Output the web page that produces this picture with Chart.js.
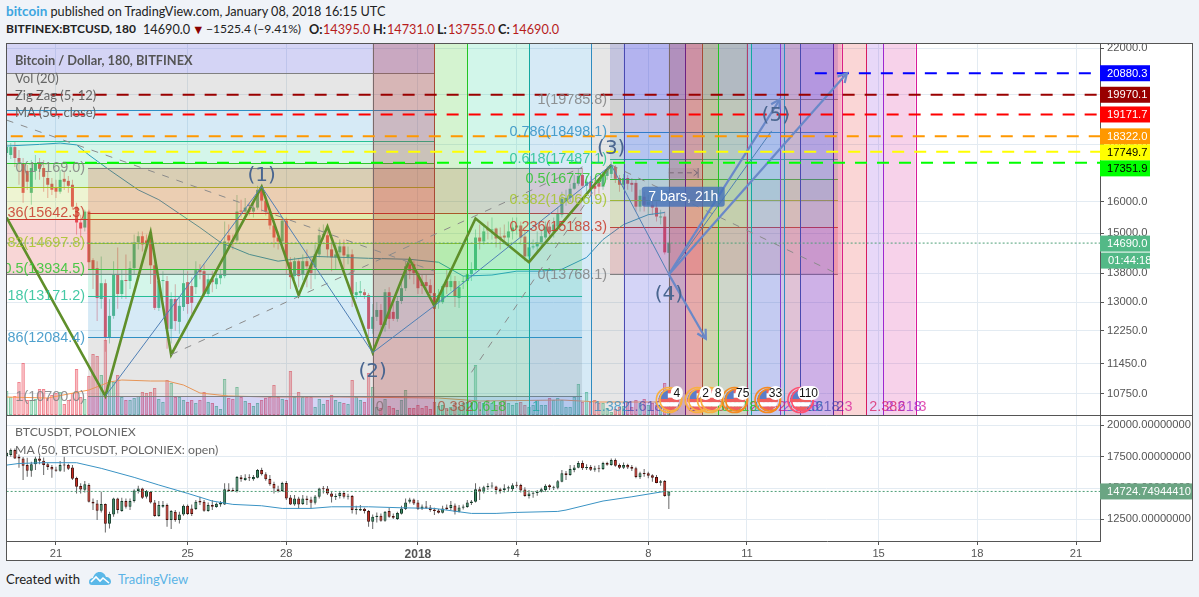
<!DOCTYPE html>
<html><head><meta charset="utf-8">
<script src="https://cdn.jsdelivr.net/npm/chart.js@4"></script>
<style>
html,body{margin:0;padding:0;background:#f0f3f8;width:1199px;height:597px;overflow:hidden;font-family:Lato,sans-serif;}
.t{position:absolute;white-space:nowrap;line-height:16px;}
#frame{position:absolute;left:6px;top:43px;width:1185px;height:516px;border:1px solid #555;background:#fff;box-sizing:content-box;}
#sep{position:absolute;left:7px;top:415px;width:1185px;height:1px;background:#555;}
canvas{position:absolute;}
.leg{color:#666;font-size:13px;}
.low{font-size:12.3px;}
.h2{top:21px;font-size:12.7px;color:#222}
.r{color:#b71c1c}
b{font-weight:700}
</style></head><body>
<div class="t" style="left:6px;top:3px;font-size:12.7px;color:#222"><span style="color:#3ea6e0;font-weight:700;font-size:13.5px">bitcoin</span> published on TradingView.com, January 08, 2018 16:15 UTC</div>
<div class="t h2" style="left:6px;font-weight:700;font-size:12px">BITFINEX:BTCUSD, 180</div>
<div class="t h2" style="left:143px">14690.0</div>
<div class="t h2" style="left:192px;color:#8b0000">▼</div>
<div class="t h2" style="left:206px;font-size:12.1px">−1525.4 (−9.41%)</div>
<div class="t h2" style="left:309px"><b>O:</b></div><div class="t h2 r" style="left:323px">14395.0</div>
<div class="t h2" style="left:373px"><b>H:</b></div><div class="t h2 r" style="left:387px">14731.0</div>
<div class="t h2" style="left:437px"><b>L:</b></div><div class="t h2 r" style="left:448px">13755.0</div>
<div class="t h2" style="left:498px"><b>C:</b></div><div class="t h2 r" style="left:512px">14690.0</div>
<div id="frame"></div>
<canvas id="mainC" width="1185" height="371" style="left:7px;top:44px"></canvas>
<div id="sep"></div>
<canvas id="lowC" width="1185" height="144" style="left:7px;top:416px"></canvas>
<div class="t leg" style="left:15px;top:52px;font-weight:700;color:#555;font-size:12.8px">Bitcoin / Dollar, 180, BITFINEX</div>
<div class="t leg" style="left:15px;top:70px">Vol (20)</div>
<div class="t leg" style="left:15px;top:87px">Zig Zag (5, 12)</div>
<div class="t leg" style="left:15px;top:104px">MA (50, close)</div>
<div class="t leg low" style="left:15px;top:424px">BTCUSDT, POLONIEX</div>
<div class="t leg low" style="left:15px;top:442px">MA (50, BTCUSDT, POLONIEX: open)</div>
<div class="t" style="left:6px;top:571px;font-size:13.1px;color:#222">Created with</div>
<svg style="position:absolute;left:88px;top:571px" width="24" height="15" viewBox="0 0 24 15"><path d="M1 11 C1 8 3 7 5 7 C6 3 9 1 11 1 C15 1 17 3 18 6 C21 6 23 8 23 11 C23 13 21 14 19 14 L4 14 C2 14 1 13 1 11Z" fill="#5bb8e8"/><path d="M3 11 L8 6 L12 10 L15 7 L21 12" fill="none" stroke="#fff" stroke-width="1.6"/></svg>
<div class="t" style="left:118px;top:571px;font-size:13px;color:#5bb3e6">TradingView</div>
<script>
// ---- data ----
const firstBar = -12;                       // bar 0 = 21 Dec 00:00, 3-hour bars
const dateTickBars = [0,32,56,88,112,144,168,200,224,248];
const dateTickLabels = ["21","25","28","2018","4","8","11","15","18","21"];
const priceTicks = [22000,20000,18000,16000,15000,13800,13000,12250,11450,10750];
const lowerTicks = [20000,17500,15000,12500];

// Bitfinex BTCUSD [open, high, low, close]
const btcusdRows = [
[17700,18070,17560,17920],[17630,18070,17480,17920],[17920,18150,17200,17520],[17520,17810,16575,17380],[17340,17520,15970,16300],
[17060,17270,16400,16680],[16300,17450,15900,17160],[17060,17630,16745,17340],[17340,17520,16745,17130],[17160,17450,16340,16850],
[16810,17020,16130,16575],[16610,16810,16230,16404],[16470,16745,16130,16340],[16340,17090,16270,16745],[16780,17020,16400,16680],
[16710,16880,16300,16540],[16575,16745,15740,15840],[15840,15970,14950,15330],[15330,15580,14860,15140],[15170,15740,15050,15680],
[15680,15740,13916,14120],[14180,14235,13356,13916],[13945,14150,12500,13110],[13084,14290,12820,13520],[13520,13630,11730,12075],
[12075,13084,11930,12635],[12635,14150,12560,13775],[13775,14560,12820,13220],[13220,13916,13084,13605],[13610,14350,13084,13580],
[13580,14150,13356,13945],[13945,14950,13775,14710],[14710,15050,14500,14900],[14900,15050,14440,14650],[14770,14950,14500,14650],
[15020,15020,13500,14030],[14030,14205,12790,12845],[12845,13690,12765,13580],[13580,13860,13084,13605],[13580,13720,11806,12300],
[12300,13270,11930,13084],[13084,13490,12250,12500],[12480,13140,12175,12900],[12870,13916,12765,13520],[13550,13860,12690,12950],
[13440,13690,12690,12980],[13410,14150,13220,13890],[13916,14060,13630,13830],[13860,14060,13140,13220],[13220,13775,13140,13630],
[13630,13860,13270,13550],[13490,13916,13356,13660],[13660,13916,13490,13750],[13720,15360,13660,14740],[14930,15265,14560,14770],
[14770,14950,14500,14740],[14770,16230,14710,15680],[15710,16070,15490,15680],[15680,16130,15490,15810],[15710,15970,15550,15680],
[15680,16070,15490,15810],[15810,16540,15740,16404],[16404,16510,15680,16040],[16040,16200,15550,15680],[15680,15740,15110,15235],
[15235,15360,14560,14860],[14860,15050,14500,14740],[14740,15490,14500,15390],[15390,15490,13775,14150],[14120,14265,13356,13690],
[13720,14265,13630,14150],[14150,14205,13410,13720],[13750,14350,13605,14150],[14150,14500,13410,14000],[14030,14265,13356,13805],
[13970,14650,13630,14350],[14350,15170,14265,14930],[14930,15265,14800,14960],[14930,15050,14265,14500],[14500,14710,13860,14265],
[14265,14650,13916,14350],[14410,14800,14150,14590],[14590,14800,13860,14320],[14265,14590,14060,14350],[14350,14500,12870,13220],
[13190,13550,13084,13270],[13245,13580,13140,13300],[13270,13356,13084,13190],[13190,13245,12050,12300],[12300,12950,12175,12610],
[12610,13000,12500,12790],[12790,12950,12300,12400],[12400,13356,12225,13270],[13270,13410,12300,12557],[12740,12950,12500,12557],
[12557,13140,12480,13030],[13030,13580,12950,13380],[13380,14150,13300,14000],[14060,14205,13630,13860],[14060,14150,13490,13805],
[13805,13860,13220,13380],[13550,13775,13220,13440],[13550,13775,13300,13440],[13465,13630,13084,13245],[13245,13520,12690,12820],
[13000,13356,12820,13190],[13000,13490,12950,13440],[13580,13916,13220,13410],[13410,13775,13300,13580],[13580,13720,12870,13140],
[13110,13580,12845,13410],[13555,13720,13356,13580],[13580,13916,13490,13775],[13775,14120,13580,13916],[13890,15110,13860,14860],
[14860,15265,14500,14740],[14740,15265,14650,15050],[15140,15360,14800,15080],[15080,15490,14800,15110],[15140,15170,14560,14830],
[14890,15170,14500,14830],[14920,15265,14650,14860],[14860,15360,14650,15050],[15050,15490,14800,15170],[15170,15490,14950,15235],
[15235,15360,14650,14860],[14890,15110,14150,14290],[14290,14740,14150,14560],[14560,14800,14500,14590],[14590,15050,14440,14710],
[14710,15110,14560,14900],[14860,15360,14800,15200],[15200,15360,14800,15020],[15050,15490,14860,15265],[15200,15810,15110,15610],
[15580,16340,15490,16100],[16040,16404,15870,16130],[16130,16610,16000,16440],[16440,16915,16404,16640],[16610,17160,16540,16880],
[16915,17160,16470,16540],[16540,16880,16340,16680],[16680,16880,16230,16440],[16540,16745,16200,16440],[16640,16810,16270,16510],
[16510,17020,16404,16915],[16880,17240,16745,17090],[16950,17380,16810,17270],[17200,17270,16640,16780],[16810,16915,16340,16575],
[16575,16950,16404,16810],[16810,16915,16404,16610],[16640,16810,16340,16575],[16640,16745,15680,15840],[15840,16404,15680,16200],
[16170,16340,15680,15900],[15900,16230,15580,16000],[15900,16130,15580,15810],[15810,16000,15360,15520],[15490,15740,15265,15520],
[15520,15680,14350,14410],[14395,14731,13755,14690]];

// Poloniex BTCUSDT [open, high, low, close]
const btcusdtRows = [
[17530,17900,17500,17820],[17630,18160,17500,18030],[18030,18160,17310,17360],[17500,17680,16620,17360],[17360,17470,15630,16780],
[16830,17420,15900,16380],[16380,17100,15900,16890],[16890,17500,16430,17360],[17360,17580,16890,17180],[17180,17440,16030,16830],
[16890,16990,16430,16670],[16670,16830,15820,16480],[16480,16700,16300,16380],[16380,17150,16300,16830],[16860,17500,16300,16800],
[16830,16940,16430,16540],[16640,16830,15630,15740],[15790,15900,14570,15100],[15160,15370,14570,14890],[14860,15550,14650,15290],
[15240,15370,13850,13900],[13900,14170,13240,13770],[13770,14040,12440,13190],[13190,14700,13050,13720],[13720,13770,11450,12150],
[12150,13100,11770,12920],[12890,14220,12710,14170],[14170,14220,12970,13240],[13160,14220,13100,13960],[13960,14170,13370,13500],
[13500,14170,13240,13960],[13960,14910,13850,14810],[14760,15180,14570,14970],[14970,15020,14120,14220],[14300,14840,14170,14760],
[14700,14760,13770,13850],[13850,14040,12710,12760],[12760,13960,12710,13640],[13500,13960,13420,13640],[13640,13770,11910,12440],
[12440,13240,11720,13160],[13100,13240,12310,12440],[12440,13100,12170,12890],[12890,13690,12790,13580],[13580,13690,12840,12920],
[13370,13690,12760,12920],[13320,14040,13240,13900],[13960,14300,13640,13850],[13900,14040,13100,13190],[13160,13850,13100,13640],
[13640,14040,13240,13500],[13480,13850,13420,13740],[13690,13960,13500,13850],[13690,15370,13640,14910],[14890,15370,14700,14760],
[14810,15020,14700,14760],[14760,15950,14650,15870],[15850,16030,15500,15690],[15630,16090,15580,15820],[15820,16090,15550,15770],
[15690,16030,15580,15870],[15820,16510,15770,16430],[16430,16620,16000,16090],[16090,16250,15580,15690],[15710,16030,15180,15290],
[15320,15500,14570,14970],[14910,15180,14650,14760],[14760,15500,14700,15400],[15400,15550,14040,14170],[14250,14440,13640,13690],
[13690,14440,13580,14170],[14170,14300,13370,13690],[13720,14440,13640,14170],[14170,14380,13640,14040],[14090,14300,13370,13820],
[13820,14440,13690,14330],[14300,15020,14170,14970],[14990,15150,14570,14910],[14970,15150,14440,14570],[14570,14760,13850,14300],
[14280,14570,14040,14360],[14360,14760,14170,14600],[14600,14760,14170,14300],[14300,14540,14090,14360],[14360,14440,12970,13240],
[13240,13580,12890,13320],[13210,13640,13160,13320],[13350,13420,12970,13160],[13160,13240,11910,12310],[12310,12890,11720,12710],
[12680,13050,12250,12790],[12790,12970,12310,12390],[12390,13160,12310,13100],[13160,13420,12630,12710],[12760,12970,12520,12630],
[12520,13100,12440,13000],[12950,13580,12890,13370],[13320,14170,13240,13850],[13900,14220,13770,14090],[14090,14170,13640,13770],
[13850,14040,13240,13320],[13350,13690,13240,13530],[13530,13960,13320,13420],[13450,13640,13100,13240],[13290,13420,12840,13160],
[13210,13320,12970,13030],[13030,13580,12970,13370],[13450,13690,13240,13320],[13400,13960,13240,13640],[13610,13770,12890,13100],
[13100,13640,13050,13450],[13420,13690,13290,13530],[13480,14040,13420,13850],[13800,14040,13640,13930],[13900,15370,13850,14910],
[14910,15100,14040,14700],[14700,15180,14570,15070],[15070,15370,14840,15150],[15130,15450,14970,15180],[15130,15180,14510,14840],
[14910,15020,14570,14760],[14840,15290,14650,14990],[14970,15180,14700,15070],[14910,15370,14760,15210],[15240,15500,15020,15180],
[15240,15340,14650,14810],[14890,15070,14300,14360],[14360,14840,14170,14570],[14540,14760,14220,14600],[14600,14840,14380,14700],
[14700,15020,14650,14910],[14840,15290,14700,15180],[15210,15290,14840,15070],[15020,15180,14840,15070],[15020,15630,14910,15530],
[15500,16430,15450,16170],[16170,16350,15630,16030],[16030,16830,15980,16510],[16430,16830,16250,16640],[16620,17150,16570,16990],
[16990,17200,16430,16570],[16570,16890,16430,16670],[16670,16830,16350,16460],[16460,16780,16300,16570],[16590,16830,16250,16540],
[16510,17100,16430,16990],[16990,17100,16780,16860],[16830,17360,16780,17230],[17230,17360,16700,16780],[16830,16960,16510,16620],
[16620,17040,16510,16830],[16830,16940,16510,16640],[16670,16830,16350,16540],[16570,16700,15770,15870],[15850,16300,15710,16170],
[16170,16510,15900,16110],[16170,16300,15770,15980],[16010,16090,15500,15820],[15870,16030,15370,15400],[15420,15630,15180,15530],
[15550,15630,14300,14360],[14380,14760,13320,14725]];

const volumes = [24,18,19,33,52,15,15,16,26,26,17,20,22,23,11,15,22,46,18,16,39,61,59,40,75,35,33,40,18,15,
15,17,19,23,22,23,27,16,13,35,32,18,18,15,13,15,12,15,23,13,12,9,6,36,17,16,28,18,14,12,
9,12,15,17,18,30,18,16,15,44,18,23,18,18,18,8,16,11,15,20,15,13,12,11,35,18,15,13,42,28,
8,7,16,9,7,5,15,25,7,7,10,7,9,6,13,9,
10,7,8,12,8,12,13,12,50,13,12,15,12,10,13,15,12,10,12,13,10,8,10,15,10,10,17,15,17,15,8,8,18,31,13,23,13,15,12,12,7,3,6,8,9,13,8,15,12,16,10,12,10,17,32,22];
const volMaBars = [-12,-2,8,13,16,23,27,31,35,42,52,69,93,103,123,132,148];
const volMa = [18,17,25,33,35,34,34,30,22,19,18,18,17,14,15,13,13];

const maBars = [-12,-4,1,5,8,13,20,25,35,40,47,54,63,76,86,93,99,106,112,118,123,129,133,138,144,148];
const maPrices = [17960,18020,18070,18000,17630,17090,16400,16070,15170,14710,14350,14150,14290,14235,14205,14120,13720,13750,13860,13860,13916,14260,14800,15265,15580,15650];
const lowMaBars = [-12,-9,-3,5,11,19,25,32,38,43,50,55,62,67,76,84,92,98,101,107,112,122,124,133,140,148];
const lowMaPrices = [16830,16960,17020,17020,16570,15850,15240,14570,13960,13690,13580,13370,13370,13500,13500,13420,13370,13100,12970,12970,13050,13130,13240,13960,14300,14730];

const zigBars = [-12,12,23,28,50,59,66,77,86,92,102,115,135];
const zigPrices = [15487,10700,15020,11660,16510,13190,15200,11710,14205,12900,15455,14120,17270];
const waveBars = [12,50,77,92,135,149,174];
const wavePrices = [10700,16510,11710,12900,17270,13768,18530];
const waveLabels = ["(1)","(2)","(3)","(4)","(5)"];
const waveLabelBars = [50,77,135,149,175];
const waveLabelPrices = [16900,11250,17870,13190,19100];
const arrowOriginBar = 149, arrowOriginPrice = 13768;
const arrowBars = [176,192.3,158];
const arrowPrices = [19780,20880,12050];
const trendA = {bars:[-12,92],prices:[18950,13860]};
const trendB = {bars:[28,128],prices:[11660,17200]};
const trendC = {bars:[101,135],prices:[11240,17270]};
const trendD = {bars:[135,190],prices:[17270,13780]};

const levelPrices = [20880.3,19970.1,19171.7,18322.0,17749.7,17351.9];
const levelColors = ["#0000ff","#990000","#ff0000","#ff9800","#ffff00","#00ff00"];
const levelTextColors = ["#fff","#fff","#fff","#fff","#000","#000"];
const levelFromBars = [184.5,-12,-12,-11,-5.3,1.7];
const levelToBars = [251.9,254,254,254,254,254];
const lastPrice = 14690.0, lastLowPrice = 14724.7494441;

const fibPalette = ["rgba(220,50,50,.2)","rgba(170,200,30,.2)","rgba(60,200,40,.2)","rgba(40,210,150,.2)","rgba(50,150,210,.2)","rgba(128,128,128,.2)","rgba(60,60,210,.22)"];
const fibLineColors = ["#808080","#c8392b","#a4c428","#2fc42f","#25bf95","#2f8fc4","#808080"];
const fibRatios = ["0","0.236","0.382","0.5","0.618","0.786","1"];
const fibAPrices = [17169.0,15642.3,14697.8,13934.5,13171.2,12084.4,10700.0];
const fibBPrices = [13768.1,15446,16485,17324,18163,19358,20880.3];
const fibCPrices = [13768.1,15188.3,16066.9,16777.0,17487.1,18498.1,19785.8];
const fibASpan = [7.8,127.9], fibBSpan = [-20,92.1], fibCSpan = [134.7,190.1];

const zoneRatios = ["0","0.382","0.618","1","1.382","1.618","2","2.382","2.618","3"];
const zoneOneBars = [77,92,100,115,130,138,153,168,176,191];
const zoneTwoBars = [149,157,161,169,177,181,189,197,201,209];
const zoneLineColors = ["#7a6a6a","#a84a35","#22c522","#14a8a0","#2f8cc0","#4a4ab0","#5a1fa0","#d81b60","#9c27d0","#d81b9a"];
const zoneFills = ["rgba(170,40,40,.25)","rgba(60,200,40,.22)","rgba(30,210,150,.2)","rgba(50,150,210,.2)","rgba(128,128,128,.2)","rgba(60,60,220,.22)","rgba(230,50,50,.2)","rgba(140,60,220,.2)","rgba(220,50,160,.22)"];

const rangeBars = [149,156], rangePrice = 16990, rangeTop = 17160, rangeBottom = 16810;
const rangeText = "7 bars, 21h";
const eventBars = [149,156,159,165,173,181];
const eventCounts = ["4","2","8","75","33","110"];
const eventRings = ["#f8b040","#f8b040","#f8b040","#f58a20","#f58a20","#ff5070"];

const countdown = "01:44:18";

// ---- helpers ----
const xMin = -11.913, xMax = 253.83;
const barOf = i => firstBar + i;
const xy = (xs, ys) => xs.map((x,i)=>({x, y:ys[i]}));
const tickFont = {family:'"Liberation Sans"', size:11.2};
const GRID = "#e3ebf2", AXIS = "#555", TICK = "#555";

function lineDs(points, color, width, dash, order, extra){
  return Object.assign({type:"line", data:points, borderColor:color, borderWidth:width, borderDash:dash||[], pointRadius:0,
    tension:0, order, yAxisID:"y", xAxisID:"x", fill:false, spanGaps:true}, extra||{});
}
function barDs(points, bg, border, thick, borderW, order, axis){
  return {type:"bar", data:points, backgroundColor:bg, borderColor:border, borderWidth:borderW, barThickness:thick, grouped:false,
    borderSkipped:false, inflateAmount:0, minBarLength:1, order, yAxisID:axis||"y", xAxisID:"x"};
}
function xAxis(labels){
  return {type:"linear", min:xMin, max:xMax, offset:false,
    afterBuildTicks(s){ s.ticks = dateTickBars.map(v=>({value:v})); },
    afterFit(s){ s.height = labels?19:0; s.paddingLeft=0; s.paddingRight=0; },
    grid:{color:GRID, tickColor:AXIS, tickLength:labels?4:0, offset:false, drawTicks:!!labels},
    border:{display:!!labels, color:AXIS},
    ticks:{display:!!labels, autoSkip:false, maxRotation:0, minRotation:0, padding:2, color:TICK,
      font:(c)=>c.tick && c.tick.value===88 ? {family:tickFont.family,size:12,weight:"bold"} : tickFont,
      callback:(v)=>dateTickLabels[dateTickBars.indexOf(v)]}};
}
function yAxis(cfg){
  return Object.assign({position:"right",
    afterBuildTicks(s){ s.ticks = cfg.ticks.map(v=>({value:v})); },
    afterFit(s){ s.width = 92; s.paddingTop=0; s.paddingBottom=0; },
    grid:{color:GRID, tickColor:AXIS, tickLength:4},
    border:{display:true,color:AXIS},
    ticks:{autoSkip:false, padding:3, color:TICK, font:tickFont, callback:cfg.fmt}}, cfg.extra);
}
function tag(ctx, left, cy, w, bg, fg, text){
  ctx.fillStyle=bg; ctx.fillRect(left, cy-8, w, 16);
  ctx.fillStyle=fg; ctx.font='11.2px "Liberation Sans"'; ctx.textAlign="left"; ctx.textBaseline="middle";
  ctx.fillText(text, left+7, cy+0.5);
}

// ---- main chart ----
function drawFib(ctx, ch, prices, span){
  const X=ch.scales.x, Y=ch.scales.y, A=ch.chartArea;
  const xa=Math.max(X.getPixelForValue(span[0]),A.left), xb=X.getPixelForValue(span[1]);
  const py=prices.map(p=>Y.getPixelForValue(p));
  py[7] = prices[6]>prices[0] ? A.top : A.bottom;
  fibPalette.forEach((c,i)=>{ ctx.fillStyle=c; ctx.fillRect(xa,Math.min(py[i],py[i+1]),xb-xa,Math.abs(py[i+1]-py[i])); });
  ctx.lineWidth=1;
  fibLineColors.forEach((c,i)=>{ ctx.strokeStyle=c; ctx.beginPath(); ctx.moveTo(xa,Math.round(py[i])+.5); ctx.lineTo(xb,Math.round(py[i])+.5); ctx.stroke(); });
}
function fibText(ctx, ch, prices, span){
  const X=ch.scales.x, Y=ch.scales.y;
  ctx.font='14.4px "Liberation Sans"'; ctx.textAlign="right"; ctx.textBaseline="middle";
  prices.forEach((p,i)=>{ ctx.fillStyle=fibLineColors[i]; ctx.globalAlpha=.85;
    ctx.fillText(fibRatios[i]+"("+p.toFixed(1)+")", X.getPixelForValue(span[0])-3, Y.getPixelForValue(p)+0.5); });
  ctx.globalAlpha=1;
}
function drawZones(ctx, ch, bars){
  const X=ch.scales.x, A=ch.chartArea;
  const xs=bars.map(b=>X.getPixelForValue(b));
  zoneFills.forEach((c,i)=>{ ctx.fillStyle=c; ctx.fillRect(xs[i],A.top,xs[i+1]-xs[i],A.bottom-A.top); });
  ctx.lineWidth=1;
  xs.forEach((x,i)=>{ ctx.strokeStyle=zoneLineColors[i]; ctx.beginPath(); ctx.moveTo(Math.round(x)+.5,A.top); ctx.lineTo(Math.round(x)+.5,A.bottom); ctx.stroke(); });
}
function zoneText(ctx, ch, bars){
  const X=ch.scales.x, A=ch.chartArea;
  ctx.font='14.4px "Liberation Sans"'; ctx.textAlign="left"; ctx.textBaseline="middle";
  bars.forEach((b,i)=>{ ctx.fillStyle=zoneLineColors[i]; ctx.globalAlpha=.75; ctx.fillText(zoneRatios[i],X.getPixelForValue(b)+3,A.bottom-8); });
  ctx.globalAlpha=1;
}
const fillPlugin = {id:"fills",
  beforeDatasetDraw(ch,args){
    if(!ch.data.datasets[args.index].fillsBefore) return;
    const ctx=ch.ctx, A=ch.chartArea;
    ctx.save(); ctx.beginPath(); ctx.rect(A.left,A.top,A.right-A.left,A.bottom-A.top); ctx.clip();
    drawFib(ctx,ch,fibBPrices,fibBSpan);
    drawFib(ctx,ch,fibAPrices,fibASpan);
    drawFib(ctx,ch,fibCPrices,fibCSpan);
    drawZones(ctx,ch,zoneOneBars);
    drawZones(ctx,ch,zoneTwoBars);
    ctx.restore();
  },
  afterDatasetsDraw(ch){
    const ctx=ch.ctx, A=ch.chartArea, X=ch.scales.x, Y=ch.scales.y;
    ctx.save(); ctx.beginPath(); ctx.rect(A.left,A.top,A.right-A.left,A.bottom-A.top); ctx.clip();
    fibText(ctx,ch,fibAPrices,fibASpan);
    fibText(ctx,ch,fibCPrices,fibCSpan);
    zoneText(ctx,ch,zoneOneBars); zoneText(ctx,ch,zoneTwoBars);
    // arrow heads
    ctx.strokeStyle="#6a88c8"; ctx.lineWidth=2.2;
    const ox=X.getPixelForValue(arrowOriginBar), oy=Y.getPixelForValue(arrowOriginPrice);
    arrowBars.forEach((b,i)=>{ const x=X.getPixelForValue(b), y=Y.getPixelForValue(arrowPrices[i]);
      const a=Math.atan2(y-oy,x-ox);
      ctx.beginPath(); ctx.moveTo(x-10*Math.cos(a-.5),y-10*Math.sin(a-.5)); ctx.lineTo(x,y); ctx.lineTo(x-10*Math.cos(a+.5),y-10*Math.sin(a+.5)); ctx.stroke(); });
    // wave labels
    ctx.font='20px "DejaVu Sans"'; ctx.textAlign="center"; ctx.textBaseline="middle"; ctx.fillStyle="#4a6690";
    waveLabels.forEach((t,i)=>ctx.fillText(t,X.getPixelForValue(waveLabelBars[i]),Y.getPixelForValue(waveLabelPrices[i])));
    // date range tool
    const rx0=X.getPixelForValue(rangeBars[0]), rx1=X.getPixelForValue(rangeBars[1]), ry=Y.getPixelForValue(rangePrice);
    const t=Y.getPixelForValue(rangeTop), bt=Y.getPixelForValue(rangeBottom);
    ctx.fillStyle="rgba(120,90,110,.12)"; ctx.fillRect(rx0,t,rx1-rx0,bt-t);
    ctx.strokeStyle="#7a6a78"; ctx.lineWidth=1;
    ctx.beginPath(); ctx.moveTo(rx0+.5,t); ctx.lineTo(rx0+.5,bt); ctx.moveTo(rx1+.5,t); ctx.lineTo(rx1+.5,bt); ctx.stroke();
    ctx.setLineDash([5,4]); ctx.beginPath(); ctx.moveTo(rx0,ry); ctx.lineTo(rx1,ry); ctx.stroke(); ctx.setLineDash([]);
    ctx.beginPath(); ctx.moveTo(rx1-4,ry-3); ctx.lineTo(rx1,ry); ctx.lineTo(rx1-4,ry+3); ctx.stroke();
    const cx=(rx0+rx1)/2, by=ry+24;
    ctx.fillStyle="rgba(70,115,185,.82)"; ctx.beginPath(); ctx.roundRect(cx-41.5,by-10,83,20,3); ctx.fill();
    ctx.fillStyle="#fff"; ctx.font='14px "Liberation Sans"'; ctx.textAlign="center"; ctx.fillText(rangeText,cx,by+.5);
    // economic event markers
    const fy=A.bottom-15;
    eventBars.forEach((b,i)=>{ const x=X.getPixelForValue(b);
      ctx.save(); ctx.beginPath(); ctx.arc(x,fy,10.5,0,7); ctx.clip();
      for(let s=0;s<5;s++){ ctx.fillStyle=s%2?"#fff":"#ef5f60"; ctx.fillRect(x-11,fy-11+s*4.4,22,4.4); }
      ctx.fillStyle="#5b7cc8"; ctx.fillRect(x-11,fy-11,10,10);
      ctx.restore();
      ctx.strokeStyle=eventRings[i]; ctx.lineWidth=1.6;
      ctx.beginPath(); ctx.arc(x,fy,12.5,0,7); ctx.stroke();
      ctx.beginPath(); ctx.arc(x+2,fy,11,0,7); ctx.stroke();
    });
    eventBars.forEach((b,i)=>{ const x=X.getPixelForValue(b);
      const lx=x+8, ly=fy-7, w=Math.max(6,eventCounts[i].length*3.6);
      ctx.fillStyle="#fff"; ctx.beginPath(); ctx.roundRect(lx-w,ly-7,2*w,14,7); ctx.fill();
      ctx.fillStyle="#111"; ctx.font='12px "Liberation Sans"'; ctx.textAlign="center"; ctx.textBaseline="middle"; ctx.fillText(eventCounts[i],lx,ly+.5);
    });
    ctx.restore();
  },
  afterDraw(ch){
    const ctx=ch.ctx, A=ch.chartArea, Y=ch.scales.y;
    ctx.save();
    let prev=-99;
    levelPrices.forEach((p,i)=>{ let c=Math.max(Y.getPixelForValue(p),prev+16); prev=c;
      tag(ctx,A.right,c,50,levelColors[i],levelTextColors[i],p.toFixed(1)); });
    const c=Y.getPixelForValue(lastPrice)+0.5;
    tag(ctx,A.right,c,50,"#53b987","#fff",lastPrice.toFixed(1));
    tag(ctx,A.right+1,c+17,49,"#53b987","#fff",countdown);
    ctx.restore();
  }
};

const mB = btcusdRows.map((r,i)=>barOf(i));
const isUp = r => r[3]>=r[0];
new Chart(document.getElementById("mainC"),{
  type:"bar",
  plugins:[fillPlugin],
  data:{datasets:[
    barDs(volumes.map((v,i)=>({x:barOf(i),y:v})), btcusdRows.map(r=>isUp(r)?"rgba(83,185,135,.4)":"rgba(235,77,92,.38)"), btcusdRows.map(r=>isUp(r)?"rgba(83,185,135,.75)":"rgba(235,77,92,.7)"),3.5,1,100,"vol"),
    lineDs(xy(volMaBars,volMa),"#ff9a4d",1,[],95,{yAxisID:"vol"}),
    barDs(btcusdRows.map((r,i)=>({x:mB[i],y:[r[2],r[1]]})), btcusdRows.map(r=>isUp(r)?"rgba(83,185,135,.55)":"rgba(235,77,92,.5)"),"transparent",1,0,90),
    barDs(btcusdRows.map((r,i)=>({x:mB[i],y:[r[0],r[3]]})), btcusdRows.map(r=>isUp(r)?"#53b987":"#eb4d5c"),"transparent",3,0,85),
    lineDs(xy(maBars,maPrices),"#2e92c2",1,[],80),
    lineDs(xy(zigBars,zigPrices),"#5f8f2a",2.6,[],60,{fillsBefore:true}),
    lineDs(xy(trendA.bars,trendA.prices),"#8a8a8a",1,[7,8],55),
    lineDs(xy(trendB.bars,trendB.prices),"#8a8a8a",1,[7,8],55),
    lineDs(xy(trendC.bars,trendC.prices),"#8a8a8a",1,[7,8],55),
    lineDs(xy(trendD.bars,trendD.prices),"#8a8a8a",1,[7,8],55),
    lineDs(xy(waveBars,wavePrices),"#4f7fb5",1,[],50),
    ...arrowBars.map((b,i)=>lineDs(xy([arrowOriginBar,b],[arrowOriginPrice,arrowPrices[i]]),"#6a88c8",2.2,[],45)),
    ...levelPrices.map((p,i)=>lineDs(xy([levelFromBars[i],levelToBars[i]],[p,p]),levelColors[i],2,[12,10],40)),
    lineDs(xy([firstBar,254],[lastPrice,lastPrice]),"#4f9f78",1,[2,2],35)
  ]},
  options:{
    responsive:false, animation:false, events:[], devicePixelRatio:1,
    layout:{padding:0},
    plugins:{legend:{display:false},tooltip:{enabled:false}},
    scales:{
      x:xAxis(false),
      y:yAxis({ticks:priceTicks, fmt:v=>Number(v).toFixed(1), extra:{type:"logarithmic",min:10291,max:22183}}),
      vol:{type:"linear",display:false,min:0,max:371,position:"left"}
    }
  }
});

// ---- lower chart ----
const lowPlugin={id:"lowTag",afterDraw(ch){
  const ctx=ch.ctx, A=ch.chartArea, Y=ch.scales.y;
  ctx.save(); tag(ctx,A.right,Y.getPixelForValue(lastLowPrice),92,"#6ba583","#fff",lastLowPrice.toFixed(8)); ctx.restore();
}};
const lB=btcusdtRows.map((r,i)=>barOf(i));
new Chart(document.getElementById("lowC"),{
  type:"bar",
  plugins:[lowPlugin],
  data:{datasets:[
    lineDs(xy(lowMaBars,lowMaPrices),"#3a93c4",1,[],50),
    barDs(btcusdtRows.map((r,i)=>({x:lB[i],y:[r[2],r[1]]})),"#666","transparent",1,0,90),
    barDs(btcusdtRows.map((r,i)=>({x:lB[i],y:[r[0],r[3]]})),btcusdtRows.map(r=>isUp(r)?"#3c8f68":"#d0281c"),btcusdtRows.map(r=>isUp(r)?"#123d29":"#4a0f0a"),3,1,85),
    lineDs(xy([firstBar,254],[lastLowPrice,lastLowPrice]),"#4f9f78",1,[2,2],40)
  ]},
  options:{
    responsive:false, animation:false, events:[], devicePixelRatio:1,
    layout:{padding:0},
    plugins:{legend:{display:false},tooltip:{enabled:false}},
    scales:{
      x:xAxis(true),
      y:yAxis({ticks:lowerTicks, fmt:v=>Number(v).toFixed(8), extra:{type:"linear",min:10767,max:20751}})
    }
  }
});
</script>
</body></html>
